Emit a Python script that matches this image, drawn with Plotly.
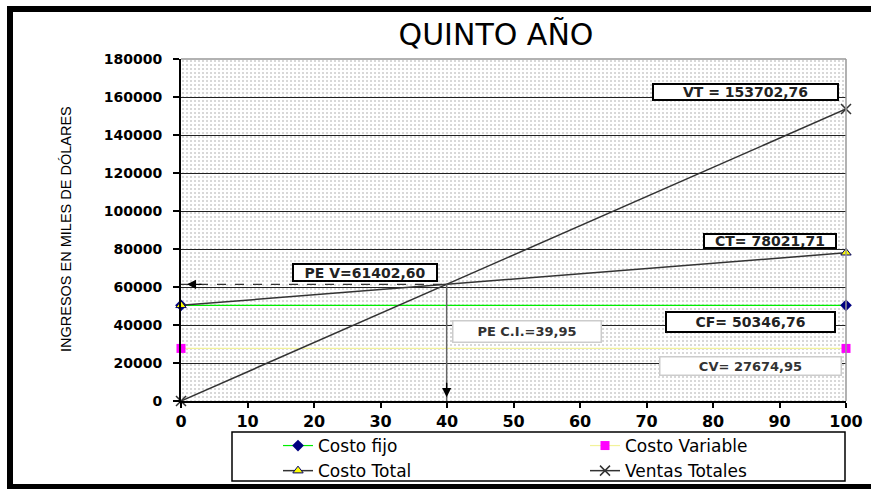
import plotly.graph_objects as go

# ---------------- data ----------------
X_PERCENT = [0, 100]
COSTO_FIJO = [50346.76, 50346.76]
COSTO_VARIABLE = [27674.95, 27674.95]
COSTO_TOTAL = [50346.76, 78021.71]
VENTAS_TOTALES = [0, 153702.76]
PE_X = 39.95
PE_Y = 61402.60
SERIES_NAMES = ["Costo fijo", "Costo Variable", "Costo Total", "Ventas Totales"]
LABEL_VT = "VT = 153702,76"
LABEL_CT = "CT= 78021,71"
LABEL_PEV = "PE V=61402,60"
LABEL_PECI = "PE C.I.=39,95"
LABEL_CF = "CF= 50346,76"
LABEL_CV = "CV= 27674,95"
TITLE = "QUINTO AÑO"
Y_TITLE = "INGRESOS EN MILES DE DÓLARES"
X_RANGE = [0, 100]
Y_RANGE = [0, 180000]
X_TICKS = [0, 10, 20, 30, 40, 50, 60, 70, 80, 90, 100]
Y_TICKS = [0, 20000, 40000, 60000, 80000, 100000, 120000, 140000, 160000, 180000]

# ---------------- layout geometry (pixels) ----------------
W, H = 871, 489
ML, MR, MT, MB = 181, 25, 59, 88
PW, PH = W - ML - MR, H - MT - MB


def px_x(p):
    return (p - ML) / PW


def px_y(p):
    return (H - MB - p) / PH


fig = go.Figure()

# dotted plot-area background
fig.add_trace(go.Scatter(
    x=[X_RANGE[0], X_RANGE[1], X_RANGE[1], X_RANGE[0], X_RANGE[0]],
    y=[Y_RANGE[0], Y_RANGE[0], Y_RANGE[1], Y_RANGE[1], Y_RANGE[0]],
    fill="toself", mode="none", fillcolor="rgba(0,0,0,0)",
    fillpattern=dict(shape=".", size=4, solidity=0.09, fgcolor="#222222",
                     bgcolor="rgba(0,0,0,0)"),
    hoverinfo="skip", showlegend=False))

fig.add_trace(go.Scatter(
    x=X_PERCENT, y=COSTO_FIJO, name=SERIES_NAMES[0], mode="lines+markers",
    line=dict(color="#00ee00", width=1.2), legend="legend",
    marker=dict(symbol="diamond", size=9, color="#000080"), cliponaxis=False))
fig.add_trace(go.Scatter(
    x=X_PERCENT, y=COSTO_VARIABLE, name=SERIES_NAMES[1], mode="lines+markers",
    line=dict(color="#f2f29a", width=1.2), legend="legend2",
    marker=dict(symbol="square", size=9, color="#ff00ff"), cliponaxis=False))
fig.add_trace(go.Scatter(
    x=X_PERCENT, y=COSTO_TOTAL, name=SERIES_NAMES[2], mode="lines+markers",
    line=dict(color="#333333", width=1.5), legend="legend",
    marker=dict(symbol="triangle-up", size=9, color="#ffff00",
                line=dict(color="#000066", width=1)), cliponaxis=False))
fig.add_trace(go.Scatter(
    x=X_PERCENT, y=VENTAS_TOTALES, name=SERIES_NAMES[3], mode="lines+markers",
    line=dict(color="#333333", width=1.5), legend="legend2",
    marker=dict(symbol="x-thin", size=10, line=dict(color="#333333", width=1.5)),
    cliponaxis=False))

shapes = [
    # break-even guide lines
    dict(type="line", xref="x", yref="y", x0=X_RANGE[0], x1=PE_X, y0=PE_Y, y1=PE_Y,
         line=dict(color="#333333", width=1.2, dash="dash")),
    dict(type="line", xref="x", yref="y", x0=PE_X, x1=PE_X, y0=PE_Y, y1=Y_RANGE[0],
         line=dict(color="#666666", width=1.5)),
    # top / right plot border (gray)
    dict(type="line", xref="paper", yref="paper", x0=0, x1=1, y0=1, y1=1,
         line=dict(color="#999999", width=1.5)),
    dict(type="line", xref="paper", yref="paper", x0=1, x1=1, y0=0, y1=1,
         line=dict(color="#999999", width=1.5)),
    # legend box
    dict(type="rect", xref="paper", yref="paper", x0=px_x(232), x1=px_x(845),
         y0=px_y(481), y1=px_y(432), line=dict(color="#000000", width=1.5)),
    # outer black frame
    dict(type="rect", xref="paper", yref="paper", x0=px_x(10), x1=px_x(885),
         y0=px_y(487), y1=px_y(9), line=dict(color="#000000", width=6)),
]

ann_font_b = dict(family="DejaVu Sans", size=14, color="#222222", weight="bold")
ann_font_g = dict(family="DejaVu Sans", size=13, color="#333333", weight="bold")


def box(text, cx, cy, w, h, font, border, bw):
    return dict(text=text, xref="paper", yref="paper", x=px_x(cx), y=px_y(cy),
                xanchor="center", yanchor="middle", showarrow=False, font=font,
                bgcolor="#ffffff", bordercolor=border, borderwidth=bw, borderpad=0,
                width=w - 2 * bw, height=h - 2 * bw, align="center", valign="middle")


annotations = [
    box(LABEL_VT, 745.5, 92, 187, 18, ann_font_b, "#000000", 2),
    box(LABEL_CT, 770, 241, 134, 16, ann_font_b, "#000000", 2),
    box(LABEL_PEV, 365, 272.5, 146, 19, ann_font_b, "#000000", 2),
    box(LABEL_PECI, 527, 331.5, 150, 23, ann_font_g, "#cccccc", 1.5),
    box(LABEL_CF, 750.5, 322, 171, 22, ann_font_b, "#000000", 2),
    box(LABEL_CV, 750.5, 366, 183, 20, ann_font_g, "#cccccc", 1.5),
    # arrow heads
    dict(x=0.9, y=PE_Y, xref="x", yref="y", ax=16, ay=0, text="", showarrow=True,
         arrowhead=2, arrowsize=1.3, arrowwidth=1.4, arrowcolor="#000000"),
    dict(x=PE_X, y=2000, xref="x", yref="y", ax=0, ay=-16, text="", showarrow=True,
         arrowhead=2, arrowsize=1.3, arrowwidth=1.4, arrowcolor="#000000"),
    # y-axis title
    dict(text=Y_TITLE, xref="paper", yref="paper", x=px_x(66), y=px_y(229),
         xanchor="center", yanchor="middle", textangle=-90, showarrow=False,
         font=dict(family="Liberation Sans Narrow, Liberation Sans",
                   size=14.5, color="#000000")),
]

legend_common = dict(orientation="v", xanchor="left", yanchor="top",
                     bgcolor="rgba(0,0,0,0)", borderwidth=0, traceorder="normal",
                     font=dict(family="DejaVu Sans", size=17, color="#000000"))

fig.update_layout(
    width=W, height=H,
    margin=dict(l=ML, r=MR, t=MT, b=MB, pad=0, autoexpand=False),
    paper_bgcolor="#ffffff", plot_bgcolor="#ffffff",
    title=dict(text=TITLE, x=px_x(496), xref="paper", xanchor="center",
               y=1 - 34.5 / H, yref="container", yanchor="middle",
               font=dict(family="DejaVu Sans", size=30, color="#000000")),
    showlegend=True,
    legend=dict(x=px_x(278), y=px_y(428), **legend_common),
    legend2=dict(x=px_x(585), y=px_y(428), **legend_common),
    shapes=shapes, annotations=annotations,
    xaxis=dict(range=X_RANGE, tickvals=X_TICKS, ticktext=[str(v) for v in X_TICKS],
               showgrid=False, zeroline=False, showline=True, linecolor="#000000",
               linewidth=2, ticks="outside", ticklen=5, tickwidth=1.5, tickcolor="#000000",
               ticklabelstandoff=0,
               tickfont=dict(family="DejaVu Sans", size=16, color="#000000", weight="bold")),
    yaxis=dict(range=Y_RANGE, tickvals=Y_TICKS, ticktext=[str(v) for v in Y_TICKS],
               showgrid=True, gridcolor="#222222", gridwidth=1, zeroline=False,
               showline=True, linecolor="#000000", linewidth=2, ticks="outside",
               ticklen=6, tickwidth=1.5, tickcolor="#000000", ticklabelstandoff=8,
               tickfont=dict(family="DejaVu Sans", size=14, color="#000000", weight="bold")),
)

fig.write_html("out.html")
